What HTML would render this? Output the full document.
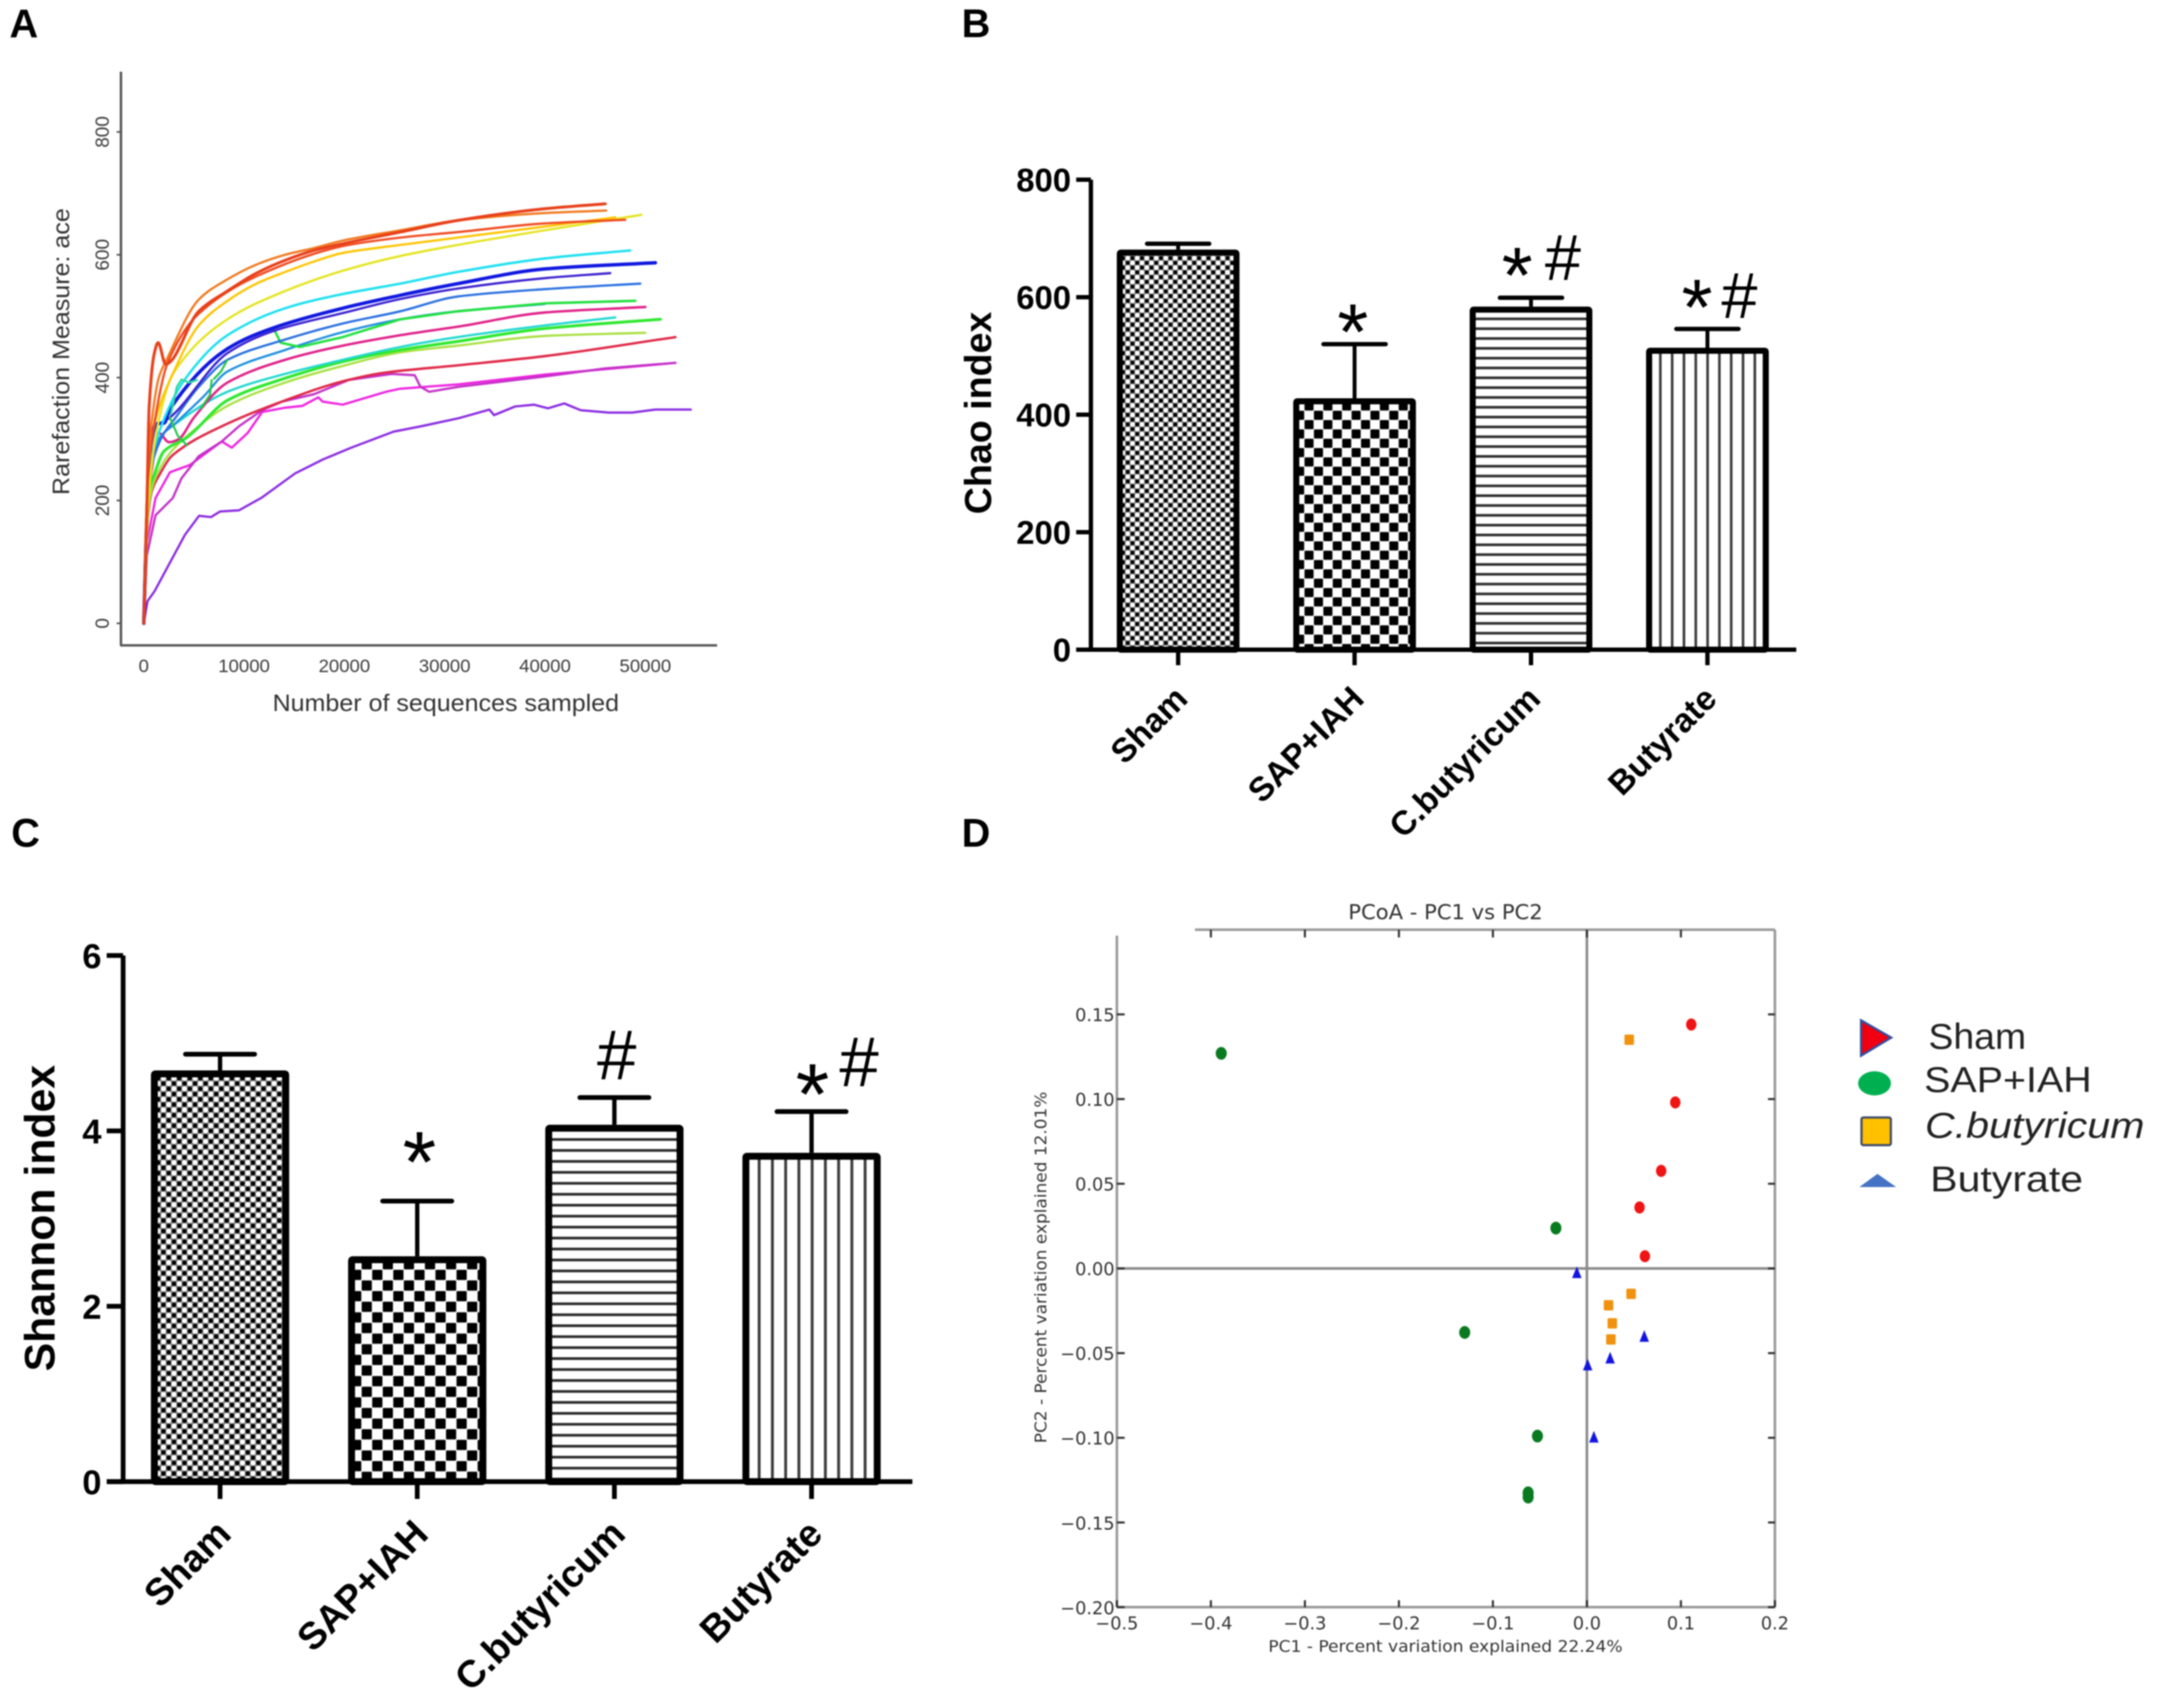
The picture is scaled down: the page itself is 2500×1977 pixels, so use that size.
<!DOCTYPE html>
<html lang="en">
<head>
<meta charset="utf-8">
<title>Gut microbiota diversity figure</title>
<style>
html,body{margin:0;padding:0;background:#fff;}
#figure{display:block;filter:blur(0.85px);font-family:"Liberation Sans",sans-serif;}
</style>
</head>
<body>
<svg id="figure" xmlns="http://www.w3.org/2000/svg" width="2500" height="1977" viewBox="0 0 2500 1977">
  <defs>
    <pattern id="dots-b" patternUnits="userSpaceOnUse" x="1297" y="296" width="11" height="11">
      <rect width="11" height="11" fill="#888"/>
      <circle cx="2.75" cy="2.75" r="2.4" fill="#000"/><circle cx="8.25" cy="8.25" r="2.4" fill="#000"/>
      <circle cx="8.25" cy="2.75" r="2.7" fill="#fff"/><circle cx="2.75" cy="8.25" r="2.7" fill="#fff"/>
    </pattern>
    <pattern id="dots-c" patternUnits="userSpaceOnUse" x="180" y="1245" width="12.2" height="12.2">
      <rect width="12.2" height="12.2" fill="#888"/>
      <circle cx="3.05" cy="3.05" r="2.7" fill="#000"/><circle cx="9.15" cy="9.15" r="2.7" fill="#000"/>
      <circle cx="9.15" cy="3.05" r="3" fill="#fff"/><circle cx="3.05" cy="9.15" r="3" fill="#fff"/>
    </pattern>
    <pattern id="check-b" patternUnits="userSpaceOnUse" x="1520.55" y="475.3" width="21.8" height="21.6">
      <rect width="21.8" height="21.6" fill="#fff"/>
      <rect x="0.2" y="0.15" width="10.5" height="10.5" rx="1" fill="#000"/>
      <rect x="11.1" y="10.95" width="10.5" height="10.5" rx="1" fill="#000"/>
    </pattern>
    <pattern id="check-c" patternUnits="userSpaceOnUse" x="430.6" y="1469.55" width="24.4" height="24.6">
      <rect width="24.4" height="24.6" fill="#fff"/>
      <rect x="0.2" y="0.25" width="11.8" height="11.8" rx="1" fill="#000"/>
      <rect x="12.4" y="12.55" width="11.8" height="11.8" rx="1" fill="#000"/>
    </pattern>
    <pattern id="hlines-b" patternUnits="userSpaceOnUse" x="0" y="738.6" width="20" height="11.37">
      <rect width="20" height="11.37" fill="#fff"/><rect y="4.2" width="20" height="3" fill="#2a2a2a"/>
    </pattern>
    <pattern id="hlines-c" patternUnits="userSpaceOnUse" x="0" y="1693" width="20" height="12.68">
      <rect width="20" height="12.68" fill="#fff"/><rect y="4.8" width="20" height="3.1" fill="#2a2a2a"/>
    </pattern>
    <pattern id="vlines-b" patternUnits="userSpaceOnUse" x="1914.9" y="0" width="13.67" height="20">
      <rect width="13.67" height="20" fill="#fff"/><rect x="5.3" width="3" height="20" fill="#3a3a3a"/>
    </pattern>
    <pattern id="vlines-c" patternUnits="userSpaceOnUse" x="871" y="0" width="15.33" height="20">
      <rect width="15.33" height="20" fill="#fff"/><rect x="6" width="3.3" height="20" fill="#3a3a3a"/>
    </pattern>
  </defs>
  <rect width="2500" height="1977" fill="#fff"/>

  <g font-weight="700" font-size="46" fill="#000">
    <text x="11" y="43">A</text>
    <text x="1113" y="43">B</text>
    <text x="13" y="980">C</text>
    <text x="1113" y="980">D</text>
  </g>

  <g id="panel-a">
    <text transform="translate(80 407) rotate(-90)" text-anchor="middle" font-size="28" fill="#333" textLength="332" lengthAdjust="spacingAndGlyphs">Rarefaction Measure: ace</text>
    <text x="516" y="823" text-anchor="middle" font-size="28" fill="#333" textLength="401" lengthAdjust="spacingAndGlyphs">Number of sequences sampled</text>
  </g>

  <g id="panel-b">
    <text transform="translate(1147 478) rotate(-90)" text-anchor="middle" font-size="43.5" font-weight="700">Chao index</text>
  </g>

  <g id="panel-c">
    <text transform="translate(63 1410) rotate(-90)" text-anchor="middle" font-size="49.5" font-weight="700">Shannon index</text>
  </g>

  <g id="panel-d" font-family="'DejaVu Sans','Liberation Sans',sans-serif">
    <text x="1673" y="1064" text-anchor="middle" font-size="24" fill="#333" textLength="225" lengthAdjust="spacingAndGlyphs">PCoA - PC1 vs PC2</text>
    <text x="1673" y="1912" text-anchor="middle" font-size="19" fill="#333" textLength="410" lengthAdjust="spacingAndGlyphs">PC1 - Percent variation explained 22.24%</text>
    <text transform="translate(1211 1467) rotate(-90)" text-anchor="middle" font-size="19" fill="#333" textLength="407" lengthAdjust="spacingAndGlyphs">PC2 - Percent variation explained 12.01%</text>
  </g>

  <g id="pcoa-legend" font-size="42" fill="#222">
    <g>
      <polygon points="2154,1181 2189,1201 2154,1222" fill="#f00010" stroke="#2f4f9f" stroke-width="2.5"/>
      <text x="2232" y="1214" textLength="113" lengthAdjust="spacingAndGlyphs">Sham</text>
    </g>
    <g>
      <ellipse cx="2169.6" cy="1254" rx="19" ry="14" fill="#00b050"/>
      <text x="2227" y="1264" textLength="194" lengthAdjust="spacingAndGlyphs">SAP+IAH</text>
    </g>
    <g>
      <rect x="2154.5" y="1293.5" width="34" height="32" rx="2" fill="#ffc000" stroke="#3a4a6a" stroke-width="2.5"/>
      <text x="2228" y="1317" font-style="italic" textLength="254" lengthAdjust="spacingAndGlyphs">C.butyricum</text>
    </g>
    <g>
      <polygon points="2152,1374 2173,1358.7 2194.6,1374" fill="#4472c4"/>
      <text x="2234" y="1379" textLength="177" lengthAdjust="spacingAndGlyphs">Butyrate</text>
    </g>
  </g>
</svg>

<script>
// ---------- Panel A data: rarefaction curves as [sequences, ace] ----------
const aceXTicks = [0, 10000, 20000, 30000, 40000, 50000];
const aceYTicks = [0, 200, 400, 600, 800];
const acePurple = [[0,0],[370,36],[1070,52],[4100,144],[5500,175],[6700,173],[7600,182],[9480,184],[11800,205],[15080,244],[17880,267],[20680,286],[24880,312],[27680,321],[31420,334],[34450,348],[34920,339],[37020,353],[38890,356],[40290,350],[41920,358],[43560,347],[46360,343],[48700,343],[51000,348],[54530,348]];
const aceMagentaA = [[0,0],[300,130],[1171,204],[2606,246],[4617,258],[7776,296],[8781,286],[10360,310],[11796,344],[14094,351],[15817,354],[17396,368],[17827,361],[19837,356],[24144,377],[25580,382],[31323,389],[40000,405],[53000,424]];
const aceMagentaB = [[0,0],[300,110],[1171,176],[2893,204],[3754,236],[5477,272],[7776,296],[9498,321],[11796,347],[13806,361],[16965,373],[20410,396],[24718,406],[27015,404],[27590,385],[28450,377],[31323,385],[40000,402],[46000,415],[53000,424]];
const aceRedLow = [[0,0],[300,150],[800,215],[1500,240],[2894,274],[8340,325],[14090,363],[19830,394],[24000,408],[31300,420],[40000,435],[53000,466]];
const aceYellowGreen = [[0,0],[500,190],[1000,230],[2500,275],[4330,305],[8340,354],[14090,392],[19830,419],[25570,441],[31300,452],[40000,468],[50000,473]];
const aceGreenBand = [[0,0],[500,215],[1000,240],[2000,280],[4330,303],[8340,363],[14090,399],[19830,426],[25570,445],[31300,459],[40000,480],[51500,495]];
const aceCyanBand = [[0,0],[500,230],[1500,300],[3180,325],[8340,377],[14090,406],[19830,429],[25570,450],[31300,466],[40000,485],[47000,498]];
const aceRose = [[0,0],[400,200],[800,250],[1500,310],[2500,295],[3500,300],[5000,335],[8340,392],[14090,429],[19830,452],[25570,469],[31300,483],[40000,506],[50000,515]];
const aceLightBlue = [[0,0],[500,240],[1500,300],[3180,326],[6000,370],[8340,410],[14090,445],[19830,474],[25570,495],[31300,508],[40000,520]];
const aceGreenTop = [[12940,478],[13070,476],[13640,457],[15550,450],[19830,466],[25570,495],[31300,508],[40000,521],[49000,525]];
const aceSteel = [[0,0],[400,220],[1700,300],[3180,335],[5477,385],[8346,429],[14090,462],[19830,488],[25570,508],[31300,532],[40000,544],[49500,553]];
const aceViolet = [[0,0],[300,165],[700,280],[1200,320],[2606,335],[8346,440],[12940,476],[19830,505],[25570,528],[31300,545],[40000,562],[46500,570]];
const aceBlue = [[0,0],[300,170],[700,290],[1200,325],[2030,326],[2606,349],[8346,447],[12940,481],[19830,513],[25570,534],[31300,553],[40000,577],[51000,587]];
const aceCyan = [[0,0],[400,230],[1500,310],[4050,396],[8340,469],[14090,513],[19830,536],[25570,553],[31300,572],[40000,594],[48500,607]];
const aceYellow = [[0,0],[500,210],[1500,330],[2894,406],[8340,495],[14090,541],[19830,574],[25570,598],[31300,616],[40000,640],[49600,665]];
const aceGold = [[0,0],[300,200],[800,300],[1500,350],[2606,396],[5477,485],[8346,525],[11220,553],[14094,572],[16965,589],[19837,603],[25580,616],[31323,628],[40000,646],[47000,661]];
const aceVermilion = [[0,0],[400,230],[1000,320],[2400,425],[5477,504],[11220,565],[19837,614],[25580,628],[31323,637],[40000,651],[48000,657]];
const aceOrange = [[0,0],[400,250],[800,330],[1500,400],[2300,430],[5477,527],[8346,560],[11220,584],[14094,600],[16965,611],[19837,623],[25580,640],[31323,656],[40000,668],[46100,672]];
const aceRed = [[0,0],[300,180],[540,354],[1030,438],[1430,457],[2180,422],[5477,508],[8346,541],[11220,570],[14094,591],[16965,607],[19837,618],[25580,637],[31323,656],[40000,675],[46000,683]];
const aceKinkA = [[6770,396],[6600,372],[5700,350]];
const aceKinkB = [[8300,428],[7700,410],[7000,398]];
const aceKinkC = [[2700,340],[3300,385],[3760,397],[4500,392],[5300,396]];
const aceKinkD = [[2600,335],[3400,305],[4300,290]];
const aceSeriesNames = ['purple','magenta-a','magenta-b','red-low','yellow-green','green-band','cyan-band','rose','light-blue','green-top','steel','violet','blue','cyan','yellow','gold','vermilion','orange','red','kink-a','kink-b','kink-c','kink-d'];

// ---------- Panel B data ----------
const groupLabels = ['Sham', 'SAP+IAH', 'C.butyricum', 'Butyrate'];
const chaoMeans = [681, 428, 584, 514];
const chaoUpper = [691, 520, 599, 546];
const chaoTicks = [0, 200, 400, 600, 800];
const chaoMarks = ['', '*', '*#', '*#'];

// ---------- Panel C data ----------
const shannonMeans = [4.69, 2.57, 4.07, 3.75];
const shannonUpper = [4.875, 3.2, 4.38, 4.22];
const shannonTicks = [0, 2, 4, 6];
const shannonMarks = ['', '*', '#', '*#'];

// ---------- Panel D data ----------
const pcoaXTicks = [-0.5, -0.4, -0.3, -0.2, -0.1, 0, 0.1, 0.2];
const pcoaYTicks = [-0.2, -0.15, -0.1, -0.05, 0, 0.05, 0.1, 0.15];
const pcoaSham = [[0.111,0.144],[0.094,0.098],[0.079,0.0576],[0.056,0.036],[0.0617,0.0072]];
const pcoaSap = [[-0.389,0.127],[-0.033,0.0238],[-0.13,-0.0378],[-0.0526,-0.099],[-0.0625,-0.1325],[-0.0625,-0.135]];
const pcoaCb = [[0.045,0.135],[0.047,-0.015],[0.023,-0.0218],[0.027,-0.0324],[0.0255,-0.0419]];
const pcoaBut = [[-0.0107,-0.0024],[0.061,-0.04],[0.0247,-0.0528],[0.0008,-0.0569],[0.0074,-0.0995]];

const SVGNS = 'http://www.w3.org/2000/svg';
function mk(parent, tag, attrs, text) {
  const el = document.createElementNS(SVGNS, tag);
  for (const k in attrs) el.setAttribute(k, attrs[k]);
  if (text !== undefined) el.textContent = text;
  parent.appendChild(el);
  return el;
}
function slug(s) { return s.toLowerCase().replace(/[^a-z0-9]+/g, '-'); }

// Monotone cubic path through screen points, so smooth curves stay rounded without overshoot
function smoothPath(p) {
  const n = p.length;
  const slope = [];
  for (let i = 0; i < n - 1; i++) slope.push((p[i + 1][1] - p[i][1]) / (p[i + 1][0] - p[i][0]));
  const m = [slope[0]];
  for (let i = 1; i < n - 1; i++) {
    const a = slope[i - 1], b = slope[i];
    m.push(a * b <= 0 ? 0 : 2 * a * b / (a + b));
  }
  m.push(slope[n - 2]);
  let d = 'M' + p[0][0].toFixed(1) + ' ' + p[0][1].toFixed(1);
  for (let i = 0; i < n - 1; i++) {
    const h = (p[i + 1][0] - p[i][0]) / 3;
    d += ' C' + (p[i][0] + h).toFixed(1) + ' ' + (p[i][1] + m[i] * h).toFixed(1) + ' ' +
      (p[i + 1][0] - h).toFixed(1) + ' ' + (p[i + 1][1] - m[i + 1] * h).toFixed(1) + ' ' +
      p[i + 1][0].toFixed(1) + ' ' + p[i + 1][1].toFixed(1);
  }
  return d;
}

// ========== Panel A ==========
(function () {
  const g = document.getElementById('panel-a');
  const xA = v => 166.4 + v * 0.01161;
  const yA = v => 721.5 - v * 0.711;
  const axisY = mk(g, 'line', {x1:140, x2:140, y1:83, y2:747, stroke:'#555', 'stroke-width':2.8});
  
  
  const axisX = mk(g, 'line', {x1:139, x2:830, y1:747, y2:747, stroke:'#555', 'stroke-width':2.8});
  
  
  aceYTicks.forEach(t => {
    const tick = mk(g, 'line', {x1:135, x2:140, y1:yA(t), y2:yA(t), stroke:'#555', 'stroke-width':2});
    
    
    const lab = mk(g, 'text', {transform:`translate(126 ${yA(t)}) rotate(-90)`, 'text-anchor':'middle', 'font-size':22, fill:'#3c3c3c'}, String(t));
    
    
  });
  aceXTicks.forEach(t => {
    const lab = mk(g, 'text', {x:xA(t), y:778, 'text-anchor':'middle', 'font-size':21.5, fill:'#3c3c3c'}, String(t));
    
    
  });
  const allSeries = [acePurple, aceMagentaA, aceMagentaB, aceRedLow, aceYellowGreen, aceGreenBand, aceCyanBand, aceRose, aceLightBlue, aceGreenTop, aceSteel, aceViolet, aceBlue, aceCyan, aceYellow, aceGold, aceVermilion, aceOrange, aceRed, aceKinkA, aceKinkB, aceKinkC, aceKinkD];
  const colors = ['#8a2be2','#ee22e0','#c430c8','#e02848','#a8e040','#30e830','#20d8d0','#e02088','#2090e0','#22e040','#2a70e0','#3a20d0','#1018e0','#20e0f0','#e4e420','#ffc400','#f04a20','#f07a20','#e8401a','#22c848','#22c848','#30d8a0','#22c848'];
  const widths = [2.6,2.6,2.6,2.8,2.6,3.4,2.6,2.8,2.6,2.8,2.6,2.6,4,2.8,2.6,2.6,2.6,2.6,3.4,2.4,2.4,2.4,2.4];
  allSeries.forEach((pts, i) => {
    const screen = pts.map(p => [xA(p[0]), yA(p[1])]);
    const jagged = i <= 2 || i >= 19 || i === 9;
    const d = jagged
      ? screen.map((p, j) => (j ? 'L' : 'M') + p[0].toFixed(1) + ' ' + p[1].toFixed(1)).join(' ')
      : smoothPath(screen);
    const line = mk(g, 'path', {d:d, fill:'none', stroke:colors[i], 'stroke-width':widths[i], 'stroke-linejoin':'round', 'stroke-linecap':'round'});
    
    
  });
})();

// ========== Panels B and C ==========
function drawBars(cfg) {
  const g = document.getElementById(cfg.id);
  const yS = v => cfg.y0 - v * cfg.k;
  const xS = i => cfg.x0 + i * cfg.step;
  const topY = yS(cfg.ticks[cfg.ticks.length - 1]);
  cfg.means.forEach((m, i) => {
    const cx = xS(i);
    const top = yS(m);
    const stem = mk(g, 'line', {x1:cx, x2:cx, y1:top, y2:yS(cfg.upper[i]), stroke:'#000', 'stroke-width':cfg.sw - 1.5});
    
    
    const cap = mk(g, 'line', {x1:cx - cfg.cap, x2:cx + cfg.cap, y1:yS(cfg.upper[i]), y2:yS(cfg.upper[i]), stroke:'#000', 'stroke-width':cfg.sw - 1, 'stroke-linecap':'round'});
    
    
    const bar = mk(g, 'rect', {x:cx - cfg.half, y:top + cfg.bw / 2, width:cfg.half * 2, height:cfg.y0 - top - cfg.bw / 2, fill:'url(#' + cfg.fills[i] + ')', stroke:'#000', 'stroke-width':cfg.bw, rx:1});
    
    
    const tick = mk(g, 'line', {x1:cx, x2:cx, y1:cfg.y0, y2:cfg.y0 + cfg.tickLen, stroke:'#000', 'stroke-width':cfg.sw - 1});
    
    
    const lx = cx + cfg.labDx, ly = cfg.y0 + cfg.labDy;
    const lab = mk(g, 'text', {x:lx, y:ly, transform:`rotate(-45 ${lx} ${ly})`, 'text-anchor':'end', 'font-size':cfg.labSize, 'font-weight':700}, groupLabels[i]);
    
    
    const marks = cfg.marks[i];
    const off = cfg.markOff[i];
    for (let n = 0; n < marks.length; n++) {
      const ch = marks[n];
      const size = ch === '*' ? cfg.starSize : cfg.hashSize;
      const center = ch === '*' ? 0.575 : 0.35;
      const o = off[n];
      const sym = mk(g, 'text', {x:cx + o[0], y:yS(cfg.upper[i]) - o[1] + center * size, 'text-anchor':'middle', 'font-size':size}, ch);
      
      
    }
  });
  const ay = mk(g, 'line', {x1:cfg.axisX, x2:cfg.axisX, y1:topY, y2:cfg.y0, stroke:'#000', 'stroke-width':cfg.sw - 1});
  
  
  const ax = mk(g, 'line', {x1:cfg.axisX - cfg.yTick, x2:cfg.axisEnd, y1:cfg.y0, y2:cfg.y0, stroke:'#000', 'stroke-width':cfg.sw - 1});
  
  
  cfg.ticks.forEach(t => {
    const tick = mk(g, 'line', {x1:cfg.axisX - cfg.yTick, x2:cfg.axisX, y1:yS(t), y2:yS(t), stroke:'#000', 'stroke-width':cfg.sw - 1});
    
    
    const lab = mk(g, 'text', {x:cfg.axisX - cfg.yTick - 6, y:yS(t) + cfg.tickSize * 0.36, 'text-anchor':'end', 'font-size':cfg.tickSize, 'font-weight':700}, String(t));
    
    
  });
}

drawBars({
  id:'panel-b', means:chaoMeans, upper:chaoUpper, ticks:chaoTicks, marks:chaoMarks,
  markOff:[[], [[-2,35.5]], [[-16,47],[37,47]], [[-12,46],[37,39]]],
  fills:['dots-b','check-b','hlines-b','vlines-b'],
  y0:752, k:0.68, x0:1363.6, step:204.2, half:67.5, bw:7, cap:36, sw:6,
  axisX:1262.6, axisEnd:2079, yTick:17, tickLen:18, tickSize:38,
  labDx:13, labDy:59, labSize:39, starSize:92, hashSize:75
});

drawBars({
  id:'panel-c', means:shannonMeans, upper:shannonUpper, ticks:shannonTicks, marks:shannonMarks,
  markOff:[[], [[2.6,68]], [[2.7,49.5]], [[1,43],[55,58]]],
  fills:['dots-c','check-c','hlines-c','vlines-c'],
  y0:1715, k:101.5, x0:254.7, step:228.2, half:76, bw:8, cap:40, sw:6.5,
  axisX:142.5, axisEnd:1056, yTick:19, tickLen:20, tickSize:40,
  labDx:15, labDy:63, labSize:44, starSize:100, hashSize:82
});

// ========== Panel D ==========
(function () {
  const g = document.getElementById('panel-d');
  const xD = v => 1836.7 + v * 1088;
  const yD = v => 1468.2 - v * 1960.4;
  const fmt = (v, n) => (v < 0 ? '\u2212' : '') + Math.abs(v).toFixed(n);
  const left = xD(-0.5), right = xD(0.2), bottom = yD(-0.2), top = yD(0.2);
  const edges = [
    ['pcoa-frame-left', left, 1083, left, bottom],
    ['pcoa-frame-bottom', left, bottom, right, bottom],
    ['pcoa-frame-right', right, top, right, bottom],
    ['pcoa-frame-top', 1383, top, right, top],
    ['pcoa-zero-x-line', xD(0), top, xD(0), bottom],
    ['pcoa-zero-y-line', left, yD(0), right, yD(0)]
  ];
  edges.forEach(e => {
    const ln = mk(g, 'line', {x1:e[1], y1:e[2], x2:e[3], y2:e[4], stroke:e[0].indexOf('zero') > -1 ? '#8a8a8a' : '#9a9a9a', 'stroke-width':3});
    
    
  });
  pcoaXTicks.forEach(t => {
    const b = mk(g, 'line', {x1:xD(t), x2:xD(t), y1:bottom, y2:bottom - 8, stroke:'#333', 'stroke-width':2.4});
    
    
    if (t > -0.45 && t < 0.15) {
      const u = mk(g, 'line', {x1:xD(t), x2:xD(t), y1:top, y2:top + 9, stroke:'#333', 'stroke-width':2.4});
      
      
    }
    const lab = mk(g, 'text', {x:xD(t), y:1886, 'text-anchor':'middle', 'font-size':20.5, fill:'#333'}, fmt(t, 1));
    
    
  });
  pcoaYTicks.forEach(t => {
    const l = mk(g, 'line', {x1:left, x2:left + 9, y1:yD(t), y2:yD(t), stroke:'#333', 'stroke-width':2.4});
    
    
    const r = mk(g, 'line', {x1:right - 8, x2:right, y1:yD(t), y2:yD(t), stroke:'#333', 'stroke-width':2.4});
    
    
    const lab = mk(g, 'text', {x:1290, y:yD(t) + 8, 'text-anchor':'end', 'font-size':20.5, fill:'#333'}, fmt(t, 2));
    
    
  });
  pcoaSham.forEach(p => {
    const m = mk(g, 'ellipse', {cx:xD(p[0]), cy:yD(p[1]), rx:6, ry:7, fill:'#f01414'});
    
    
  });
  pcoaSap.forEach(p => {
    const m = mk(g, 'ellipse', {cx:xD(p[0]), cy:yD(p[1]), rx:6.4, ry:7.4, fill:'#0a7a20'});
    
    
  });
  pcoaCb.forEach(p => {
    const m = mk(g, 'rect', {x:xD(p[0]) - 5.5, y:yD(p[1]) - 6, width:11, height:12, rx:1.5, fill:'#f0920f'});
    
    
  });
  pcoaBut.forEach(p => {
    const cx = xD(p[0]), cy = yD(p[1]);
    const m = mk(g, 'polygon', {points:`${cx - 5.5},${cy + 6.5} ${cx},${cy - 7} ${cx + 5.5},${cy + 6.5}`, fill:'#1414e0'});
    
    
  });
})();
</script>
</body>
</html>
